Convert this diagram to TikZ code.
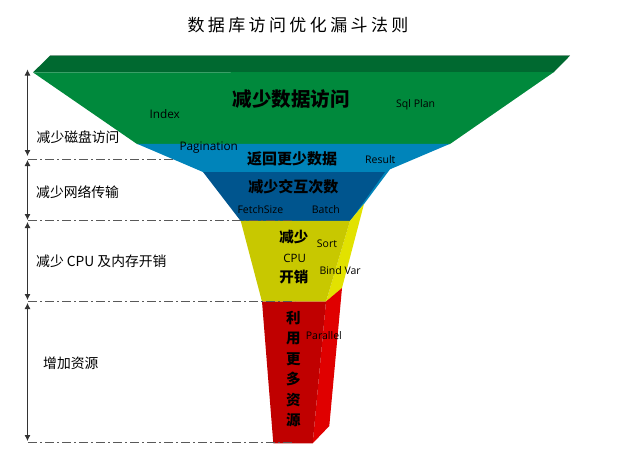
\documentclass[tikz,border=0pt]{standalone}
\usetikzlibrary{arrows.meta}
\usepackage{tikz}
\usepackage{fontspec}
\setmainfont{Noto Sans CJK SC}
\newfontfamily\latin{Open Sans}
\newfontfamily\titlefont[LetterSpace=20]{Noto Sans CJK SC}

\definecolor{topgreen}{RGB}{0,105,48}
\definecolor{facegreen}{RGB}{0,137,60}
\definecolor{lightblue}{RGB}{0,132,186}
\definecolor{darkblue}{RGB}{0,85,142}
\definecolor{faceyellow}{RGB}{200,200,0}
\definecolor{sideyellow}{RGB}{226,226,0}
\definecolor{facered}{RGB}{192,0,0}
\definecolor{sidered}{RGB}{224,0,0}

\tikzset{
	levelline/.style={black!65, line width=0.9pt, dash pattern=on 9pt off 3pt on 2pt off 3pt},
	levelarrow/.style={black!80, line width=0.8pt, {Latex[length=6pt,width=6pt]}-{Latex[length=6pt,width=6pt]}},
	tag/.style={font=\latin\fontsize{10.5}{12}\selectfont, inner sep=0pt, anchor=west},
	cn/.style={font=\bfseries\fontsize{15}{17}\selectfont, inner sep=0pt},
	sidelabel/.style={font=\fontsize{13.8}{16}\selectfont, inner sep=0pt, anchor=west}
}

\begin{document}
\begin{tikzpicture}[x=1pt,y=-1pt]
%Layers of funnel (top to bottom):
% green  = fewer data reads
% blue   = fewer rows returned / fewer round trips
% yellow = less CPU and memory
% red    = more resources
\useasboundingbox (0,0) rectangle (629,458);

\node[font=\titlefont\fontsize{17}{19}\selectfont, inner sep=0pt] (title) at (298,25) {数据库访问优化漏斗法则};

%left axis
\foreach \n/\y in {0/69.5,1/156,2/160,3/220,4/222,5/300,6/303,7/441}
	\coordinate (a\n) at (27.5,\y);
\foreach \n/\y/\r in {1/159.3/200,2/220.7/295,3/301.7/295,4/442.7/295}{
	\coordinate (l\n) at (28,\y);
	\coordinate (r\n) at (\r,\y);}

\draw [levelline] (l1) -- (r1);

%funnel
\draw [black!25, line width=0.8pt] (50,55.3) -- (570,55.3);
\fill [topgreen] (50,55.7) -- (570,55.7) -- (554,72) -- (33,72.4) -- cycle;
\fill [facegreen] (33,72.4) -- (554,72) -- (450,144) -- (137,144) -- cycle;
\fill [lightblue] (137,143.8) -- (450,143.8) -- (390,169.3) -- (364,204) -- (350,221) -- (203,172) -- cycle;
\fill [darkblue] (203,172) -- (385,172) -- (350,221) -- (240.7,221) -- cycle;
\fill [sideyellow] (350,220.8) -- (364,204) -- (342,288) -- (326,301.7) -- cycle;
\fill [faceyellow] (240.7,220.8) -- (350,220.8) -- (326,301.7) -- (262,301.7) -- cycle;
\fill [sidered] (326,301.5) -- (342,288) -- (329.3,426) -- (312.7,443.3) -- cycle;
\fill [facered] (262,301.5) -- (326,301.5) -- (312.7,443.3) -- (273.3,443.3) -- cycle;

\foreach \n in {2,3,4}
	\draw [levelline] (l\n) -- (r\n);
\foreach \p/\q in {0/1,2/3,4/5,6/7}
	\draw [levelarrow] (a\p) -- (a\q);

%labels on funnel
\node[cn, font=\bfseries\fontsize{19.5}{21}\selectfont] (reads) at (291,99) {减少数据访问};
\node[tag, font=\latin\fontsize{11.8}{13}\selectfont] (index) at (149.3,114) {Index};
\node[tag] (sqlplan) at (396,105) {Sql Plan};
\node[tag, font=\latin\fontsize{11.8}{13}\selectfont] (pagination) at (179.3,147.7) {Pagination};
\node[cn] (rows) at (292,159.3) {返回更少数据};
\node[tag] (result) at (365,159.3) {Result};
\node[cn] (trips) at (293.3,186.7) {减少交互次数};
\node[tag] (fetchsize) at (237.3,210) {FetchSize};
\node[tag] (batch) at (311.7,210) {Batch};
\node[cn, font=\bfseries\fontsize{14.5}{16}\selectfont] (cpua) at (293.8,236.7) {减少};
\node[inner sep=0pt, font=\latin\fontsize{11.5}{13}\selectfont] (cpub) at (294.6,258.3) {CPU};
\node[cn, font=\bfseries\fontsize{14.5}{16}\selectfont] (cpuc) at (293.8,277.3) {开销};
\node[tag] (sort) at (316.7,243.3) {Sort};
\node[tag] (bindvar) at (319.3,271) {Bind Var};
\foreach \c [count=\i] in {利,用,更,多,资,源}
	\node[cn, font=\bfseries\fontsize{14.5}{16}\selectfont] (res\i) at (293.3,318.3+20.35*\i-20.35) {\c};
\node[tag] (parallel) at (305.7,336) {Parallel};

%labels on left
\node[sidelabel] (disk) at (36.5,137) {减少磁盘访问};
\node[sidelabel] (net) at (36,191.7) {减少网络传输};
\node[sidelabel] (mem) at (36,261.7) {减少 CPU 及内存开销};
\node[sidelabel] (more) at (43,363.3) {增加资源};

\end{tikzpicture}
\end{document}
